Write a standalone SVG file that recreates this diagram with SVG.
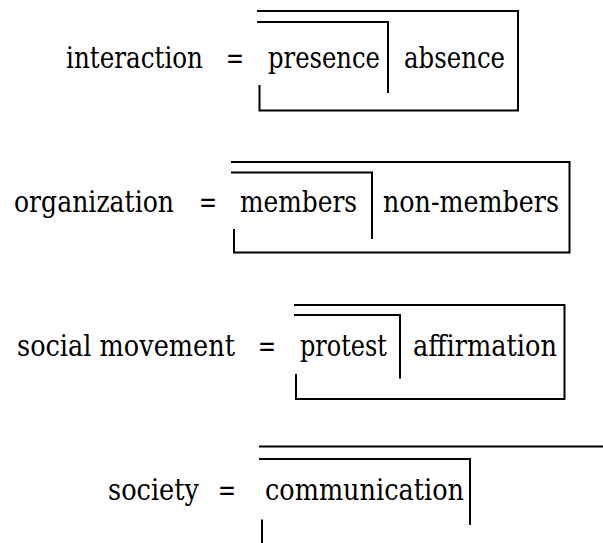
<svg xmlns="http://www.w3.org/2000/svg" width="603" height="543" viewBox="0 0 603 543">
<style>
.t text{font-family:'DejaVu Serif', serif;font-size:29px;fill:#000}
.l{fill:none;stroke:#000;stroke-width:2}
</style>
<rect width="603" height="543" fill="#fff"/>
<g id="interaction" class="t">
<text x="66" y="68" textLength="137" lengthAdjust="spacingAndGlyphs">interaction</text>
<text x="226" y="68" textLength="18" lengthAdjust="spacingAndGlyphs">=</text>
<text x="268" y="68" textLength="112" lengthAdjust="spacingAndGlyphs">presence</text>
<text x="404" y="68" textLength="101" lengthAdjust="spacingAndGlyphs">absence</text>
<path class="l" d="M257 11H518V110.5H259.5V85"/>
<path class="l" d="M257 22H388V93"/>
</g>
<g id="organization" class="t">
<text x="14" y="212" textLength="160" lengthAdjust="spacingAndGlyphs">organization</text>
<text x="199" y="212" textLength="18" lengthAdjust="spacingAndGlyphs">=</text>
<text x="240" y="212" textLength="117" lengthAdjust="spacingAndGlyphs">members</text>
<text x="383" y="212" textLength="176" lengthAdjust="spacingAndGlyphs">non-members</text>
<path class="l" d="M231 162H569.5V252.5H234V229"/>
<path class="l" d="M231 172.5H372V239"/>
</g>
<g id="social-movement" class="t">
<text x="17" y="356" textLength="218" lengthAdjust="spacingAndGlyphs">social movement</text>
<text x="258" y="356" textLength="18" lengthAdjust="spacingAndGlyphs">=</text>
<text x="300" y="356" textLength="87" lengthAdjust="spacingAndGlyphs">protest</text>
<text x="413" y="356" textLength="144" lengthAdjust="spacingAndGlyphs">affirmation</text>
<path class="l" d="M294 305H564.5V399H296V374"/>
<path class="l" d="M294 315H400V378.5"/>
</g>
<g id="society" class="t">
<text x="108" y="499.5" textLength="91" lengthAdjust="spacingAndGlyphs">society</text>
<text x="218" y="499.5" textLength="18" lengthAdjust="spacingAndGlyphs">=</text>
<text x="265" y="499.5" textLength="199" lengthAdjust="spacingAndGlyphs">communication</text>
<path class="l" d="M259 446.5H603"/>
<path class="l" d="M259 459H470V525"/>
<path class="l" d="M262 519.5V543"/>
</g>
</svg>
